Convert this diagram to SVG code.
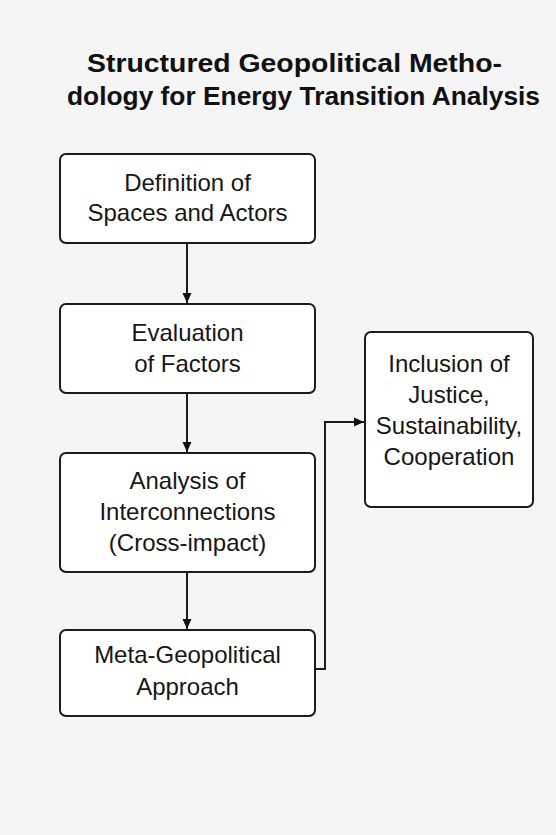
<svg xmlns="http://www.w3.org/2000/svg" width="556" height="835" viewBox="0 0 556 835">
<defs>
<style>
.bg{fill:#f5f5f5}
.box{fill:#ffffff;stroke:#1c1c1c;stroke-width:2}
.t{font-family:"Liberation Sans",Arial,sans-serif;font-size:24px;fill:#161616;text-anchor:middle}
.title{font-family:"Liberation Sans",Arial,sans-serif;font-size:26px;font-weight:bold;fill:#111111;text-anchor:middle}
.c{fill:none;stroke:#1c1c1c;stroke-width:2}
</style>
<marker id="ah" markerWidth="10" markerHeight="10" viewBox="0 0 10 10" refX="10" refY="5" orient="auto" markerUnits="userSpaceOnUse">
<path d="M0,0.5 L10,5 L0,9.5 Z" fill="#111111"/>
</marker>
</defs>
<rect class="bg" x="0" y="0" width="556" height="835"/>
<g id="title">
<text class="title" x="294.5" y="72" textLength="415" lengthAdjust="spacingAndGlyphs">Structured Geopolitical Metho-</text>
<text class="title" x="303.5" y="105" textLength="473" lengthAdjust="spacingAndGlyphs">dology for Energy Transition Analysis</text>
</g>
<g id="connectors">
<line class="c" x1="187" y1="243" x2="187" y2="303" marker-end="url(#ah)"/>
<line class="c" x1="187" y1="393" x2="187" y2="452" marker-end="url(#ah)"/>
<line class="c" x1="187" y1="572" x2="187" y2="629" marker-end="url(#ah)"/>
<polyline class="c" points="315,669 325,669 325,422 364,422" marker-end="url(#ah)"/>
</g>
<g id="node-definition">
<rect class="box" x="60" y="154" width="255" height="89" rx="6"/>
<text class="t" x="187.5" y="191">Definition of</text>
<text class="t" x="187.5" y="221">Spaces and Actors</text>
</g>
<g id="node-evaluation">
<rect class="box" x="60" y="304" width="255" height="89" rx="6"/>
<text class="t" x="187.5" y="341">Evaluation</text>
<text class="t" x="187.5" y="372">of Factors</text>
</g>
<g id="node-analysis">
<rect class="box" x="60" y="453" width="255" height="119" rx="6"/>
<text class="t" x="187.5" y="489">Analysis of</text>
<text class="t" x="187.5" y="520">Interconnections</text>
<text class="t" x="187.5" y="551">(Cross-impact)</text>
</g>
<g id="node-meta">
<rect class="box" x="60" y="630" width="255" height="86" rx="6"/>
<text class="t" x="187.5" y="663">Meta-Geopolitical</text>
<text class="t" x="187.5" y="695">Approach</text>
</g>
<g id="node-inclusion">
<rect class="box" x="365" y="332" width="168" height="175" rx="6"/>
<text class="t" x="449" y="372">Inclusion of</text>
<text class="t" x="449" y="403">Justice,</text>
<text class="t" x="449" y="434">Sustainability,</text>
<text class="t" x="449" y="465">Cooperation</text>
</g>
</svg>
